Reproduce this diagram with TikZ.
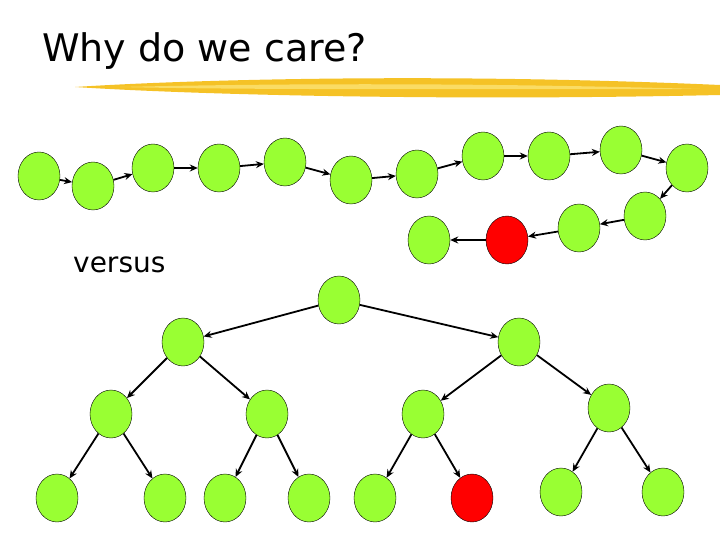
\documentclass[tikz,border=0pt]{standalone}
\usepackage{fontspec}
\setmainfont{DejaVu Sans}
\usepackage{tikz}
\usetikzlibrary{shapes.geometric, arrows.meta, positioning}
\definecolor{nodegreen}{RGB}{153,255,51}
\definecolor{baryellow}{RGB}{245,194,38}
\definecolor{barlight}{RGB}{250,220,100}

\begin{document}
\begin{tikzpicture}[x=1pt,y=-1pt]
    \tikzstyle{every node} = [font=\fontsize{28}{30}\selectfont]
    \tikzstyle{blob} = [draw, ellipse, fill=nodegreen, inner sep=0pt, minimum width=42pt, minimum height=48pt]
    \tikzstyle{target} = [blob, fill=red]
    \tikzstyle{link} = [-{Stealth[length=8pt,width=7pt]}, line width=1.8pt]
    \useasboundingbox (0,0) rectangle (720,540);
    % title and brush stroke
    \node[anchor=base west, inner sep=0pt, font=\fontsize{38}{40}\selectfont](title) at (42,62){Why do we care?};
    \fill[baryellow] (75,87) .. controls (200,79) and (450,73) .. (720,85) -- (720,95) .. controls (450,101) and (200,95) .. (75,87) -- cycle;
    \fill[barlight] (120,87) .. controls (250,84) and (450,82) .. (700,89) .. controls (450,89) and (250,90) .. (120,87) -- cycle;
    \node[anchor=base west, inner sep=0pt](versusLabel) at (73,272){versus};
    % place nodes - linked list
    \node[blob](c1) at (39,176){};
    \node[blob](c2) at (93,186){};
    \node[blob](c3) at (153,168){};
    \node[blob](c4) at (219,168){};
    \node[blob](c5) at (285,162){};
    \node[blob](c6) at (351,180){};
    \node[blob](c7) at (417,174){};
    \node[blob](c8) at (483,156){};
    \node[blob](c9) at (549,156){};
    \node[blob](c10) at (621,150){};
    \node[blob](c11) at (687,168){};
    \node[blob](c12) at (645,216){};
    \node[blob](c13) at (579,228){};
    \node[target](c14) at (507,240){};
    \node[blob](c15) at (429,240){};
    % place nodes - tree
    \node[blob](root) at (339,300){};
    \node[blob](tL) at (183,342){};
    \node[blob](tR) at (519,342){};
    \node[blob](tLL) at (111,414){};
    \node[blob](tLR) at (267,414){};
    \node[blob](tRL) at (423,414){};
    \node[blob](tRR) at (609,408){};
    \node[blob](leafA) at (57,498){};
    \node[blob](leafB) at (165,498){};
    \node[blob](leafC) at (225,498){};
    \node[blob](leafD) at (309,498){};
    \node[blob](leafE) at (375,498){};
    \node[target](leafF) at (472,498){};
    \node[blob](leafG) at (561,492){};
    \node[blob](leafH) at (663,492){};
    % Connections
    \foreach \a/\b in {c1/c2,c2/c3,c3/c4,c4/c5,c5/c6,c6/c7,c7/c8,c8/c9,c9/c10,c10/c11,c11/c12,c12/c13,c13/c14,c14/c15}
        \draw[link] (\a) -- (\b);
    \foreach \a/\b in {root/tL,root/tR,tL/tLL,tL/tLR,tR/tRL,tR/tRR,tLL/leafA,tLL/leafB,tLR/leafC,tLR/leafD,tRL/leafE,tRL/leafF,tRR/leafG,tRR/leafH}
        \draw[link] (\a) -- (\b);
\end{tikzpicture}
\end{document}
